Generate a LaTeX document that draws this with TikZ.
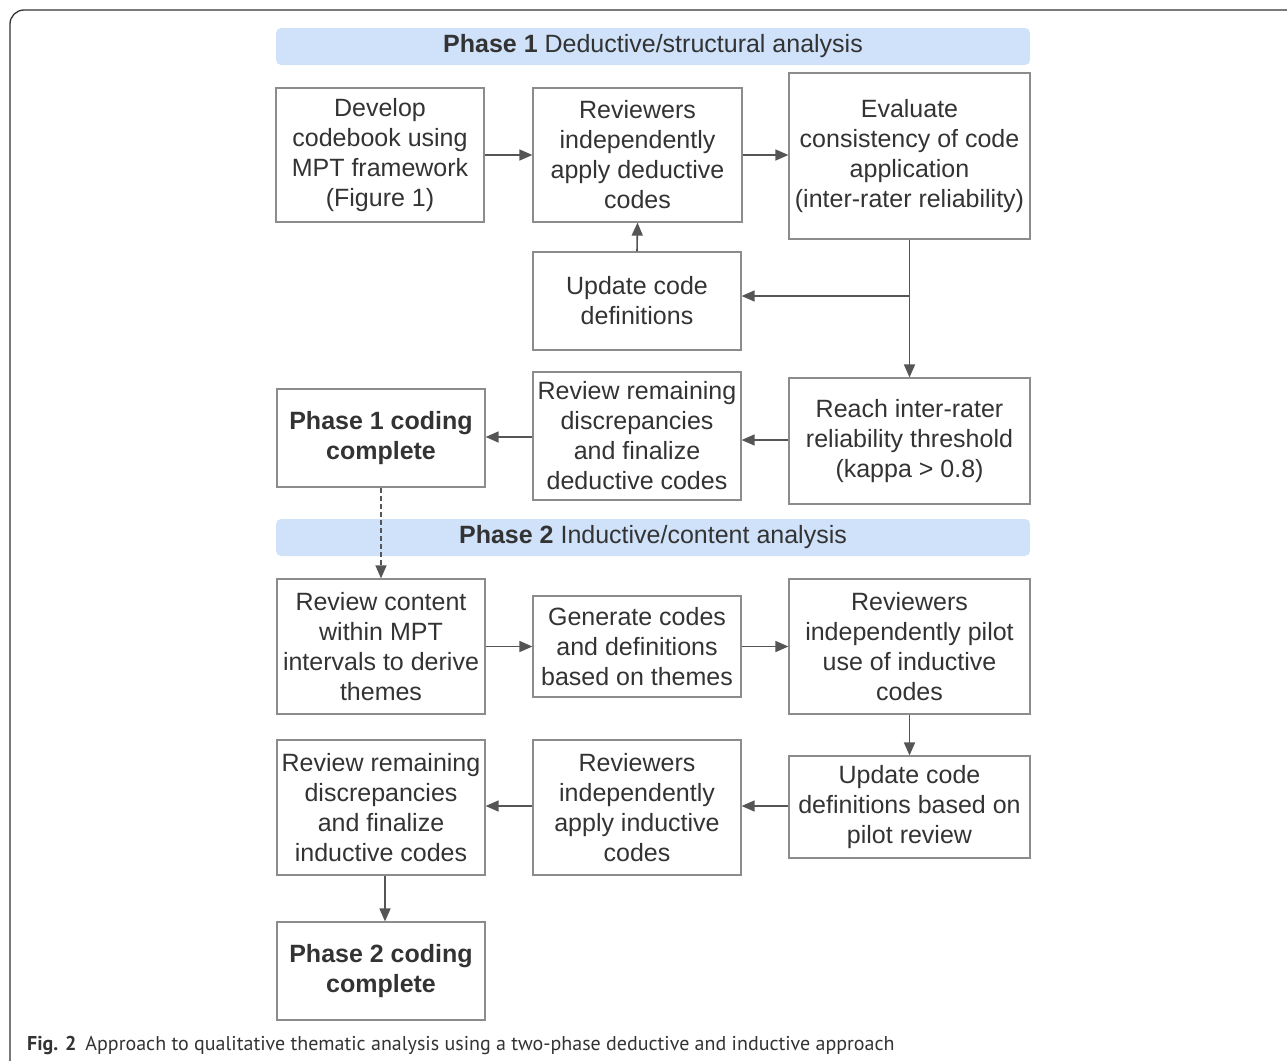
\documentclass[tikz,border=0pt]{standalone}
\usepackage{fontspec}
\setmainfont{Liberation Sans}
\newfontfamily\capfont{PT Sans}
\usetikzlibrary{arrows.meta}
\definecolor{txt}{HTML}{333333}
\definecolor{edge}{HTML}{8C8C8C}
\definecolor{arr}{HTML}{555555}
\definecolor{hdr}{HTML}{CFE2FA}
\tikzset{
  box/.style={draw=edge, line width=1.2pt, text=txt, align=center, inner sep=0pt,
    font=\fontsize{25}{30}\selectfont},
  hdrbox/.style={fill=hdr, rounded corners=5pt, text=txt, inner sep=0pt,
    font=\fontsize{25}{30}\selectfont, minimum width=754, minimum height=37},
  conn/.style={draw=arr, line width=1.6pt, -{Triangle[length=13pt,width=11pt]}},
}
\begin{document}
\begin{tikzpicture}[x=1pt,y=-1pt]
\useasboundingbox (0,0) rectangle (1287,1060);
% outer frame
\draw[draw=txt, line width=1.3pt, rounded corners=14pt] (10,1080) -- (10,10) -- (1310,10);
% headers
\node[hdrbox] (h1) at (653,46.5) {\textbf{Phase 1} Deductive/structural analysis};
\node[hdrbox] (h2) at (653,537.5) {\textbf{Phase 2} Inductive/content analysis};
% Phase 1 boxes
\node[box, minimum width=208, minimum height=134] (A) at (380,155) {Develop\\codebook using\\MPT framework\\(Figure 1)};
\node[box, minimum width=209, minimum height=134] (B) at (637.5,155) {Reviewers\\independently\\apply deductive\\codes};
\node[box, minimum width=241, minimum height=166] (C) at (909.5,156) {Evaluate\\consistency of code\\application\\(inter-rater reliability)};
\node[box, minimum width=208, minimum height=98] (D) at (637,301) {Update code\\definitions};
\node[box, minimum width=241, minimum height=126] (E) at (909.5,441) {Reach inter-rater\\reliability threshold\\(kappa {>} 0.8)};
\node[box, minimum width=208, minimum height=128] (F) at (637,436) {Review remaining\\discrepancies\\and finalize\\deductive codes};
\node[box, minimum width=208, minimum height=98] (G) at (381,438) {\textbf{Phase 1 coding}\\\textbf{complete}};
% Phase 2 boxes
\node[box, minimum width=208, minimum height=135] (H) at (381,646.5) {Review content\\within MPT\\intervals to derive\\themes};
\node[box, minimum width=208, minimum height=101] (I) at (637,646.5) {Generate codes\\and definitions\\based on themes};
\node[box, minimum width=241, minimum height=135] (J) at (909.5,646.5) {Reviewers\\independently pilot\\use of inductive\\codes};
\node[box, minimum width=241, minimum height=102] (K) at (909.5,807) {Update code\\definitions based on\\pilot review};
\node[box, minimum width=208, minimum height=135] (L) at (637,807.5) {Reviewers\\independently\\apply inductive\\codes};
\node[box, minimum width=208, minimum height=135] (M) at (381,807.5) {Review remaining\\discrepancies\\and finalize\\inductive codes};
\node[box, minimum width=208, minimum height=98] (N) at (381,971) {\textbf{Phase 2 coding}\\\textbf{complete}};
% connectors phase 1
\draw[conn] (A.east) -- (B.west);
\draw[conn] (B.east |- A.east) -- (C.west |- A.east);
\draw[conn] (D.north) -- (B.south);
\coordinate (split) at (C.south |- 0,296);
\draw[conn] (C.south) -- (E.north);
\draw[conn] (split) -- (D.east |- split);
\draw[conn] (E.west |- 0,440) -- (F.east |- 0,440);
\draw[conn] (F.west |- 0,437) -- (G.east |- 0,437);
\draw[conn, dashed, dash pattern=on 5pt off 3pt, line width=1.2pt] (G.south) -- (H.north);
% connectors phase 2
\draw[conn] (H.east) -- (I.west);
\draw[conn] (I.east) -- (J.west);
\draw[conn] (J.south) -- (K.north);
\draw[conn] (K.west |- 0,806) -- (L.east |- 0,806);
\draw[conn] (L.west |- 0,806) -- (M.east |- 0,806);
\draw[conn] (M.south -| 385,0) -- (N.north -| 385,0);
% caption
\node[anchor=base west, inner sep=0pt, text=txt, font=\capfont\fontsize{20}{24}\selectfont] (cap) at (27,1050)
  {\textbf{Fig. 2}\hspace{9pt}Approach to qualitative thematic analysis using a two-phase deductive and inductive approach};
\end{tikzpicture}
\end{document}
